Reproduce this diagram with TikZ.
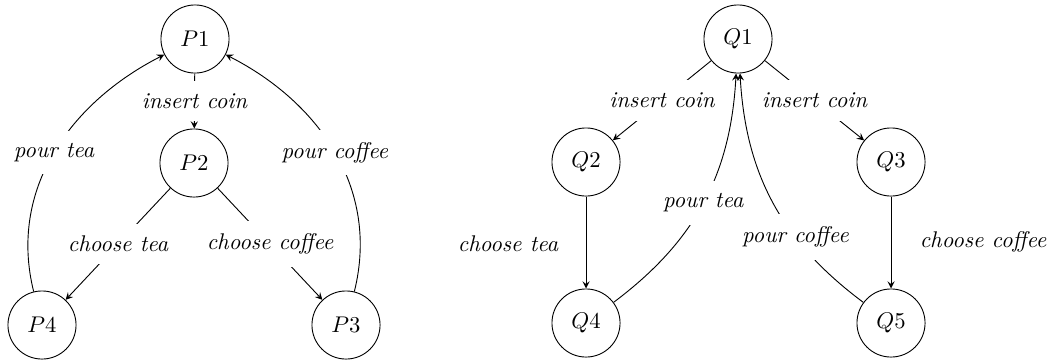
\documentclass[tikz,border=0pt]{standalone}
\usetikzlibrary{arrows}
\begin{document}
\begin{tikzpicture}[x=0.4405pt,y=0.4405pt,
  state/.style={draw,circle,minimum size=30pt,inner sep=0pt},
  lab/.style={fill=white,inner sep=5.5pt,font=\itshape},
  side/.style={inner sep=0pt,font=\itshape},
  arr/.style={-stealth}]
\useasboundingbox (0,0) rectangle (1050,363);
% left machine
\node[state] (P1) at (195,324) {$P1$};
\node[state] (P2) at (194,200) {$P2$};
\node[state] (P3) at (346,38) {$P3$};
\node[state] (P4) at (42,38) {$P4$};
\draw[arr] (P1) -- node[lab] (l1) {insert coin} (P2);
\draw[arr] (P2) -- node[lab] (l2) {choose tea} (P4);
\draw[arr] (P2) -- node[lab] (l3) {choose coffee} (P3);
\draw[arr] (P4) to[out=104,in=207] node[lab] (l4) {pour tea} (P1);
\draw[arr] (P3) to[out=76,in=-27] node[lab] (l5) {pour coffee} (P1);
% right machine
\node[state] (Q1) at (738,324) {$Q1$};
\node[state] (Q2) at (586,201) {$Q2$};
\node[state] (Q3) at (891,201) {$Q3$};
\node[state] (Q4) at (586,40) {$Q4$};
\node[state] (Q5) at (891,40) {$Q5$};
\draw[arr] (Q1) -- node[lab] (m1) {insert coin} (Q2);
\draw[arr] (Q1) -- node[lab] (m2) {insert coin} (Q3);
\draw[arr] (Q2) -- (Q4);
\draw[arr] (Q3) -- (Q5);
\node[side] (m3) at (508,119) {choose tea};
\node[side] (m4) at (983,121) {choose coffee};
\draw[arr] (Q4) to[bend right=25] node[lab] (m5) {pour tea} (Q1);
\draw[arr] (Q5) to[bend left=25] node[lab,pos=0.34] (m6) {pour coffee} (Q1);
\end{tikzpicture}
\end{document}
